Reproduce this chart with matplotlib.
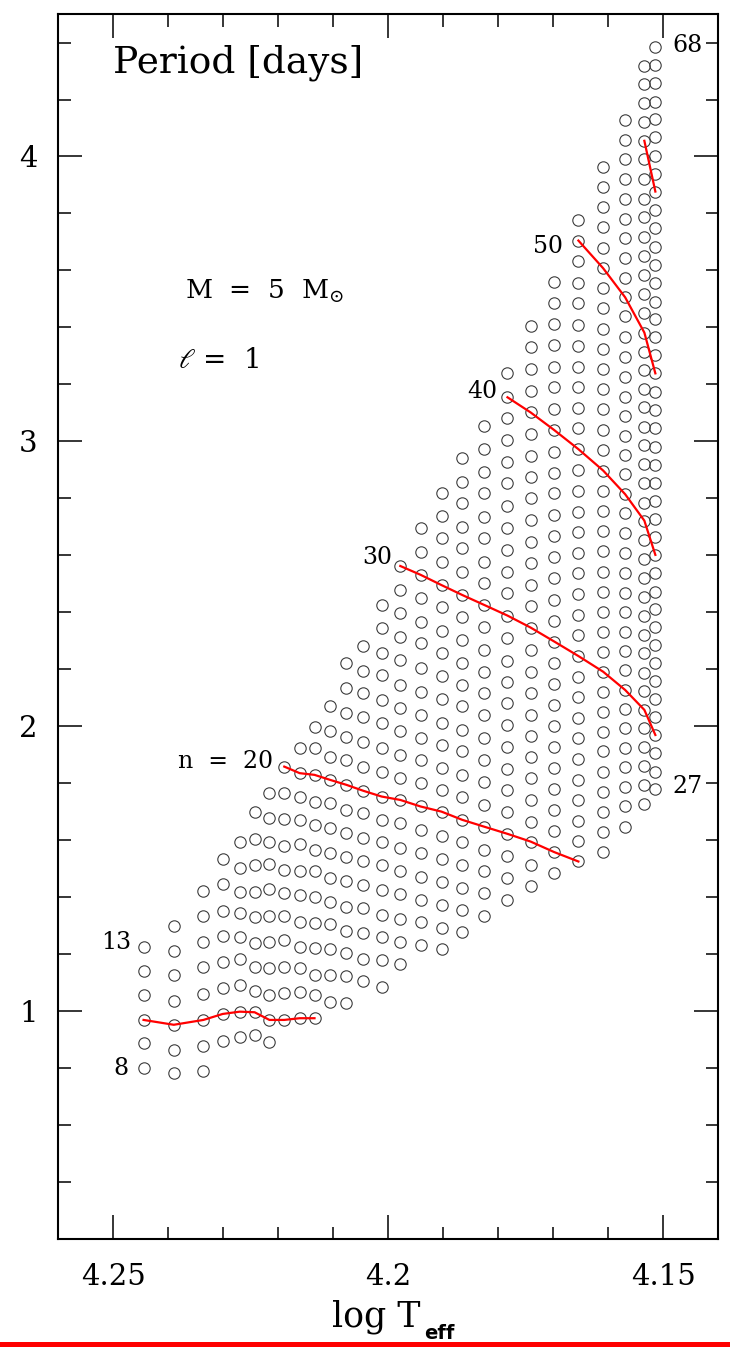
import matplotlib
matplotlib.use('Agg')
import matplotlib.pyplot as plt
from matplotlib.patches import Rectangle
from matplotlib.ticker import MultipleLocator, FormatStrFormatter

plt.rcParams['font.family'] = ['DejaVu Serif']
plt.rcParams['mathtext.fontset'] = 'dejavuserif'

# log Teff of each model, hot -> cool
log_teff = [4.2445, 4.2390, 4.2336, 4.2301, 4.2270, 4.2243, 4.2216, 4.2189, 4.2161,
            4.2134, 4.2105, 4.2076, 4.2045, 4.2012, 4.1978, 4.1941, 4.1903, 4.1865,
            4.1825, 4.1783, 4.1741, 4.1698, 4.1654, 4.1609, 4.1569, 4.1534, 4.1514]
# radial order n of the lowest mode shown for each model
n_low = [8, 8, 8, 9, 9, 9, 9, 10, 10, 10, 11, 11, 12, 12, 13, 14, 14, 15, 16, 17,
         18, 19, 20, 21, 23, 25, 27]

# periods [days], from n_low upward
p_4245 = [0.801, 0.888, 0.970, 1.058, 1.143, 1.227]
p_4239 = [0.783, 0.865, 0.953, 1.037, 1.126, 1.213, 1.298]
p_4234 = [0.791, 0.880, 0.970, 1.061, 1.154, 1.244, 1.333, 1.423]
p_4230 = [0.896, 0.991, 1.081, 1.175, 1.265, 1.354, 1.446, 1.534]
p_4227 = [0.909, 0.999, 1.091, 1.184, 1.262, 1.345, 1.420, 1.502, 1.596]
p_4224 = [0.918, 0.997, 1.073, 1.154, 1.239, 1.331, 1.420, 1.514, 1.604, 1.699]
p_4222 = [0.894, 0.970, 1.058, 1.152, 1.245, 1.335, 1.429, 1.518, 1.596, 1.678, 1.766]
p_4219 = [0.970, 1.064, 1.154, 1.251, 1.335, 1.415, 1.496, 1.579, 1.675, 1.766, 1.859]
p_4216 = [0.976, 1.069, 1.152, 1.227, 1.315, 1.409, 1.493, 1.588, 1.672, 1.754, 1.836,
          1.924]
p_4213 = [0.976, 1.058, 1.128, 1.222, 1.309, 1.403, 1.491, 1.567, 1.654, 1.736, 1.830,
          1.924, 1.999]
p_4210 = [1.034, 1.128, 1.219, 1.307, 1.385, 1.467, 1.555, 1.643, 1.731, 1.812, 1.894,
          1.985, 2.073]
p_4208 = [1.031, 1.125, 1.204, 1.283, 1.368, 1.458, 1.543, 1.625, 1.707, 1.795, 1.882,
          1.964, 2.048, 2.134, 2.222]
p_4205 = [1.105, 1.183, 1.274, 1.362, 1.444, 1.526, 1.608, 1.695, 1.774, 1.859, 1.947,
          2.032, 2.117, 2.196, 2.282]
p_4201 = [1.087, 1.179, 1.262, 1.339, 1.426, 1.514, 1.596, 1.672, 1.754, 1.841, 1.924,
          2.011, 2.093, 2.181, 2.257, 2.345, 2.426]
p_4198 = [1.167, 1.243, 1.325, 1.413, 1.491, 1.573, 1.660, 1.742, 1.818, 1.900, 1.985,
          2.064, 2.146, 2.233, 2.315, 2.397, 2.479, 2.563]
p_4194 = [1.232, 1.315, 1.390, 1.473, 1.555, 1.637, 1.719, 1.801, 1.882, 1.959, 2.040,
          2.122, 2.205, 2.292, 2.368, 2.450, 2.532, 2.613, 2.695]
p_4190 = [1.220, 1.292, 1.374, 1.455, 1.534, 1.616, 1.701, 1.777, 1.853, 1.935, 2.013,
          2.095, 2.177, 2.257, 2.336, 2.420, 2.496, 2.578, 2.660, 2.739, 2.820]
p_4186 = [1.278, 1.356, 1.432, 1.514, 1.596, 1.672, 1.754, 1.830, 1.912, 1.988, 2.070,
          2.146, 2.222, 2.304, 2.385, 2.461, 2.543, 2.625, 2.701, 2.783, 2.859, 2.941]
p_4182 = [1.333, 1.415, 1.491, 1.567, 1.648, 1.725, 1.806, 1.882, 1.959, 2.040, 2.117,
          2.192, 2.268, 2.350, 2.426, 2.502, 2.578, 2.660, 2.736, 2.818, 2.894, 2.973,
          3.054]
p_4178 = [1.391, 1.467, 1.546, 1.623, 1.698, 1.777, 1.852, 1.928, 2.005, 2.081, 2.155,
          2.231, 2.309, 2.389, 2.467, 2.543, 2.619, 2.695, 2.772, 2.853, 2.929, 3.005,
          3.081, 3.155, 3.239]
p_4174 = [1.441, 1.514, 1.596, 1.666, 1.742, 1.818, 1.894, 1.967, 2.040, 2.117, 2.192,
          2.268, 2.347, 2.421, 2.496, 2.573, 2.648, 2.725, 2.801, 2.877, 2.950, 3.026,
          3.102, 3.178, 3.253, 3.331, 3.406]
p_4170 = [1.485, 1.559, 1.634, 1.707, 1.780, 1.853, 1.929, 2.002, 2.075, 2.149, 2.224,
          2.298, 2.371, 2.445, 2.520, 2.594, 2.668, 2.742, 2.818, 2.891, 2.964, 3.040,
          3.114, 3.190, 3.263, 3.339, 3.412, 3.487, 3.561]
p_4165 = [1.526, 1.598, 1.669, 1.742, 1.812, 1.885, 1.959, 2.031, 2.102, 2.175, 2.247,
          2.321, 2.391, 2.463, 2.538, 2.610, 2.684, 2.754, 2.826, 2.900, 2.973, 3.046,
          3.119, 3.190, 3.263, 3.335, 3.409, 3.485, 3.555, 3.634, 3.705, 3.777]
p_4161 = [1.559, 1.629, 1.701, 1.771, 1.841, 1.912, 1.982, 2.052, 2.122, 2.192, 2.262,
          2.333, 2.403, 2.473, 2.543, 2.617, 2.687, 2.757, 2.827, 2.898, 2.970, 3.040,
          3.113, 3.183, 3.253, 3.325, 3.395, 3.467, 3.538, 3.608, 3.678, 3.752, 3.822,
          3.894, 3.964]
p_4157 = [1.648, 1.719, 1.787, 1.857, 1.926, 1.994, 2.060, 2.128, 2.198, 2.266, 2.333,
          2.403, 2.469, 2.538, 2.608, 2.678, 2.748, 2.815, 2.885, 2.953, 3.019, 3.089,
          3.157, 3.227, 3.298, 3.368, 3.439, 3.506, 3.573, 3.643, 3.713, 3.780, 3.850,
          3.920, 3.990, 4.058, 4.128]
p_4153 = [1.728, 1.795, 1.861, 1.929, 1.994, 2.058, 2.126, 2.189, 2.257, 2.321, 2.388,
          2.453, 2.520, 2.587, 2.654, 2.722, 2.785, 2.855, 2.921, 2.988, 3.052, 3.120,
          3.184, 3.251, 3.315, 3.382, 3.450, 3.518, 3.584, 3.651, 3.719, 3.787, 3.850,
          3.920, 3.990, 4.055, 4.122, 4.189, 4.254, 4.318]
p_4151 = [1.780, 1.841, 1.906, 1.970, 2.034, 2.095, 2.161, 2.222, 2.286, 2.348, 2.412,
          2.473, 2.538, 2.602, 2.664, 2.727, 2.792, 2.855, 2.918, 2.982, 3.046, 3.111,
          3.175, 3.239, 3.304, 3.366, 3.431, 3.491, 3.555, 3.619, 3.684, 3.748, 3.812,
          3.877, 3.939, 4.002, 4.067, 4.131, 4.192, 4.257, 4.321, 4.385]

periods = [p_4245, p_4239, p_4234, p_4230, p_4227, p_4224, p_4222, p_4219, p_4216,
           p_4213, p_4210, p_4208, p_4205, p_4201, p_4198, p_4194, p_4190, p_4186,
           p_4182, p_4178, p_4174, p_4170, p_4165, p_4161, p_4157, p_4153, p_4151]

# modes followed with a red line
n_traced = [10, 20, 30, 40, 50, 60]


def mode_period(i, n):
    k = n - n_low[i]
    return periods[i][k]


fig = plt.figure(figsize=(7.3, 13.48), dpi=100)
ax = fig.add_axes([0.0799, 0.0806, 0.9037, 0.909])

for x, p in zip(log_teff, periods):
    ax.plot([x] * len(p), p, linestyle='none', marker='o', ms=8.2,
            mfc='none', mec='#3c3c3c', mew=0.8, zorder=2)

for n in n_traced:
    xs, ys = [], []
    for i, x in enumerate(log_teff):
        if n_low[i] <= n < n_low[i] + len(periods[i]):
            xs.append(x)
            ys.append(mode_period(i, n))
    ax.plot(xs, ys, color='red', lw=1.6, zorder=3)

ax.set_xlim(4.26, 4.14)
ax.set_ylim(0.2, 4.5)
ax.xaxis.set_major_locator(MultipleLocator(0.05))
ax.xaxis.set_minor_locator(MultipleLocator(0.01))
ax.yaxis.set_major_locator(MultipleLocator(1))
ax.yaxis.set_minor_locator(MultipleLocator(0.2))
ax.xaxis.set_major_formatter(FormatStrFormatter('%g'))
ax.yaxis.set_major_formatter(FormatStrFormatter('%g'))
ax.tick_params(which='both', direction='in', top=True, right=True, width=1.1,
               labelsize=21)
ax.tick_params(which='major', length=17)
ax.tick_params(which='minor', length=9)
ax.tick_params(axis='x', pad=17)
ax.tick_params(axis='y', pad=15)
for s in ax.spines.values():
    s.set_linewidth(1.5)

# mode labels next to the circles
lab = dict(fontsize=17, textcoords='offset points', va='center')
ax.annotate('13', (log_teff[0], mode_period(0, 13)), xytext=(-9, 3), ha='right', **lab)
ax.annotate('8', (log_teff[0], mode_period(0, 8)), xytext=(-11, 0), ha='right', **lab)
ax.annotate('n  =  20', (log_teff[7], mode_period(7, 20)), xytext=(-8, 4), ha='right', **lab)
ax.annotate('30', (log_teff[14], mode_period(14, 30)), xytext=(-6, 6), ha='right', **lab)
ax.annotate('40', (log_teff[19], mode_period(19, 40)), xytext=(-7, 4), ha='right', **lab)
ax.annotate('50', (log_teff[22], mode_period(22, 50)), xytext=(-11, -4), ha='right', **lab)
ax.annotate('68', (log_teff[26], mode_period(26, 68)), xytext=(12, 1), ha='left', **lab)
ax.annotate('27', (log_teff[26], mode_period(26, 27)), xytext=(12, 2), ha='left', **lab)

W, H = 730, 1348
fig.text(113 / W, 1 - 63 / H, 'Period [days]', fontsize=27, ha='left', va='center')
fig.text(185 / W, 1 - 291 / H, r'M  =  5  M$_{\odot}$', fontsize=19, ha='left', va='center')
fig.text(178 / W, 1 - 360 / H, r'$\ell$ =  1', fontsize=20, ha='left', va='center')

# axis title: log T_eff
fig.text(421 / W, 1 - 1327 / H, 'log T', fontsize=25, ha='right', va='baseline')
fig.text(424 / W, 1 - 1339 / H, 'eff', fontsize=14, ha='left', va='baseline',
         family='DejaVu Sans', fontweight='bold')

# red rule along the bottom edge
fig.add_artist(Rectangle((0, 1 / H), 1, 5 / H, transform=fig.transFigure,
                         color='red', lw=0))

fig.savefig('out.png', dpi=100)
